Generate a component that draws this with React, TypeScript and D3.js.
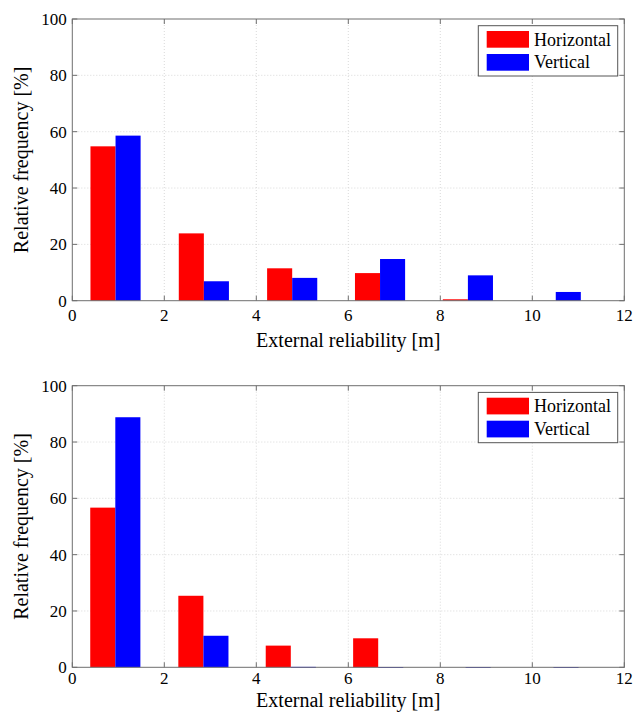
import React from "react";
import * as d3 from "d3";

const seriesNames = ["Horizontal", "Vertical"];
const seriesColors = ["#ff0000", "#0000ff"];

const binCentersTop = [0.94, 2.86, 4.78, 6.69, 8.6, 10.51];
const horizontalTop = [54.8, 23.9, 11.5, 9.8, 0.5, 0];
const verticalTop = [58.6, 6.9, 8.1, 14.8, 9.0, 3.1];

const binCentersBottom = [0.935, 2.85, 4.75, 6.65, 8.55, 10.46];
const horizontalBottom = [56.7, 25.4, 7.7, 10.3, 0, 0];
const verticalBottom = [88.8, 11.2, 0.15, 0.08, 0.08, 0.08];

const xTicks = [0, 2, 4, 6, 8, 10, 12];
const yTicks = [0, 20, 40, 60, 80, 100];

const xLabel = "External reliability [m]";
const yLabel = "Relative frequency [%]";

const FONT = '"Liberation Serif", "Times New Roman", Times, "DejaVu Serif", serif';
const AXIS = "#6e6e6e";

type PanelProps = {
  top: number;
  bottom: number;
  centers: number[];
  hor: number[];
  ver: number[];
  tickOffset: number;
  labelOffset: number;
};

function Panel({ top, bottom, centers, hor, ver, tickOffset, labelOffset }: PanelProps) {
  const left = 72.3;
  const right = 624.3;
  const x = d3.scaleLinear().domain([0, 12]).range([left, right]);
  const y = d3.scaleLinear().domain([0, 100]).range([bottom, top]);
  const bw = 0.545;
  const tl = 5;
  const legTop = top + 6.7;
  const legLeft = 478.3;
  const series = [hor, ver];
  const ts = { fontFamily: FONT };
  return (
    <g>
      {xTicks.slice(1, -1).map((t) => (
        <line key={"gx" + t} x1={x(t)} x2={x(t)} y1={top} y2={bottom} stroke="#cfcfcf" strokeWidth={0.8} strokeDasharray="1,2" />
      ))}
      {yTicks.slice(1, -1).map((t) => (
        <line key={"gy" + t} x1={left} x2={right} y1={y(t)} y2={y(t)} stroke="#cfcfcf" strokeWidth={0.8} strokeDasharray="1,2" />
      ))}
      {series.map((vals, si) =>
        vals.map((v, i) => {
          const x0 = si === 0 ? centers[i] - bw : centers[i];
          const x1 = si === 0 ? centers[i] : centers[i] + bw;
          const h = y(0) - y(v);
          if (v <= 0) return null;
          return (
            <rect key={si + "-" + i} x={x(x0)} y={y(v)} width={x(x1) - x(x0)} height={Math.max(h, 0.8)} fill={seriesColors[si]} />
          );
        })
      )}
      <rect x={left} y={top} width={right - left} height={bottom - top} fill="none" stroke={AXIS} strokeWidth={1} />
      {xTicks.map((t) => (
        <g key={"tx" + t}>
          <line x1={x(t)} x2={x(t)} y1={bottom} y2={bottom - tl} stroke={AXIS} />
          <line x1={x(t)} x2={x(t)} y1={top} y2={top + tl} stroke={AXIS} />
          <text x={x(t)} y={bottom + tickOffset} textAnchor="middle" style={ts} fontSize={17} fill="#000">
            {t}
          </text>
        </g>
      ))}
      {yTicks.map((t) => (
        <g key={"ty" + t}>
          <line x1={left} x2={left + tl} y1={y(t)} y2={y(t)} stroke={AXIS} />
          <line x1={right} x2={right - tl} y1={y(t)} y2={y(t)} stroke={AXIS} />
          <text x={left - 5.5} y={y(t)} dy="0.35em" textAnchor="end" style={ts} fontSize={17} fill="#000">
            {t}
          </text>
        </g>
      ))}
      <text x={(left + right) / 2} y={bottom + labelOffset} textAnchor="middle" style={ts} fontSize={20} fill="#000">
        {xLabel}
      </text>
      <text
        transform={`translate(28,${(top + bottom) / 2}) rotate(-90)`}
        textAnchor="middle"
        style={ts}
        fontSize={20}
        fill="#000"
      >
        {yLabel}
      </text>
      <rect x={legLeft} y={legTop} width={139.4} height={50.3} fill="#fff" stroke="#555" strokeWidth={1} />
      {seriesNames.map((name, i) => (
        <g key={name}>
          <rect x={486.7} y={legTop + 5.3 + i * 23} width={42.3} height={16.7} fill={seriesColors[i]} />
          <text x={534} y={legTop + 20 + i * 22.5} style={ts} fontSize={18} fill="#000">
            {name}
          </text>
        </g>
      ))}
    </g>
  );
}

export default function App() {
  return (
    <svg
      width={633}
      height={718}
      style={{ position: "absolute", left: 0, top: 0, background: "#fff", fontFamily: FONT }}
    >
      <rect x={0} y={0} width={633} height={718} fill="#fff" />
      <Panel top={19} bottom={300.7} centers={binCentersTop} hor={horizontalTop} ver={verticalTop} tickOffset={20.5} labelOffset={45.8} />
      <Panel
        top={385.7}
        bottom={667.3}
        centers={binCentersBottom}
        hor={horizontalBottom}
        ver={verticalBottom}
        tickOffset={16.5}
        labelOffset={39.5}
      />
    </svg>
  );
}
